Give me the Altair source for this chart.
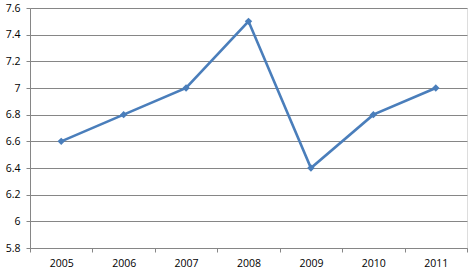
import altair as alt
import pandas as pd

years = ["2005", "2006", "2007", "2008", "2009", "2010", "2011"]
values = [6.6, 6.8, 7.0, 7.5, 6.4, 6.8, 7.0]
y_ticks = [5.8, 6.0, 6.2, 6.4, 6.6, 6.8, 7.0, 7.2, 7.4, 7.6]

df = pd.DataFrame({"year": years, "value": values})

FONT = "Open Sans"
GRID = "#868686"

chart = alt.Chart(df).mark_line(
    color="#4A7EBB", strokeWidth=2.6,
    point=alt.OverlayMarkDef(shape="diamond", size=55, filled=True, color="#4A7EBB"),
).encode(
    x=alt.X("year:N", sort=years, title=None,
            scale=alt.Scale(type="band", paddingInner=0, paddingOuter=0),
            axis=alt.Axis(labelAngle=0, tickBand="extent", grid=False, domainColor=GRID,
                          tickColor=GRID, tickSize=4, labelPadding=6, labelFont=FONT,
                          labelFontSize=10.5, labelColor="#000000")),
    y=alt.Y("value:Q", title=None,
            scale=alt.Scale(domain=[5.8, 7.6], nice=False, zero=False),
            axis=alt.Axis(values=y_ticks, format=".1~f", grid=True, gridColor=GRID,
                          gridWidth=1, domainColor=GRID, tickColor=GRID, tickSize=4,
                          labelPadding=6, labelFont=FONT, labelFontSize=10.5,
                          labelColor="#000000")),
).properties(
    width=437, height=240,
    autosize=alt.AutoSizeParams(type="none"),
    padding={"left": 30, "top": 8, "right": 7, "bottom": 25},
).configure_view(stroke=None).configure(background="white")

chart.save("out.html", embed_options={"renderer": "svg", "actions": False})
